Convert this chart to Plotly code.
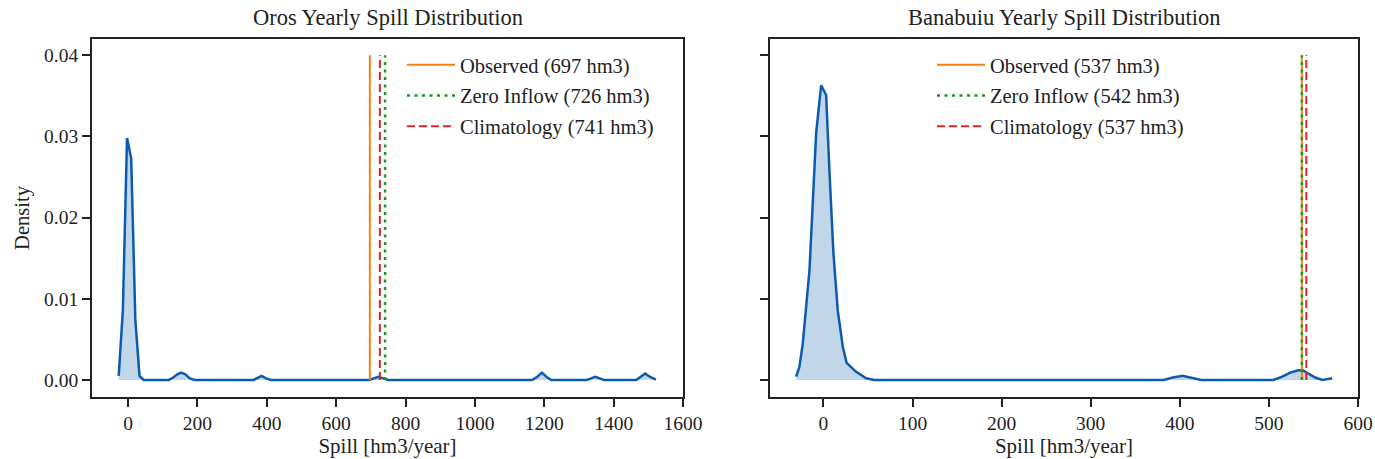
import plotly.graph_objects as go

# ---------------- data ----------------
oros_x = [-27, -15, -3, 9, 21, 33, 45, 118, 130, 142, 153, 165, 178, 192,
          362, 372, 385, 398, 412, 695, 708, 722, 736, 750,
          1165, 1180, 1193, 1206, 1220, 1322, 1335, 1347, 1360, 1372,
          1465, 1478, 1491, 1504, 1517, 1522]
oros_y = [0.0005, 0.0086, 0.0298, 0.0273, 0.0074, 0.0005, 0.0, 0.0, 0.0003, 0.0007, 0.0009, 0.0007, 0.0002, 0.0,
          0.0, 0.0002, 0.0005, 0.0002, 0.0, 0.0, 0.0002, 0.0004, 0.0002, 0.0,
          0.0, 0.0004, 0.0009, 0.0004, 0.0, 0.0, 0.0002, 0.0004, 0.0002, 0.0,
          0.0, 0.0004, 0.0008, 0.0004, 0.0001, 0.00005]

bana_x = [-30.7, -27, -23.2, -19.5, -15.7, -12, -8.2, -2.6, 3, 6.7, 11.2, 16, 21.7, 26, 36.7, 48, 57,
          382, 392, 403, 413, 424, 505, 515, 524, 533, 538, 545, 552, 560, 566, 571]
bana_y = [0.0004, 0.0016, 0.0045, 0.0086, 0.0135, 0.0218, 0.0304, 0.0363, 0.0351, 0.0258, 0.0156, 0.0086,
          0.0041, 0.0021, 0.0010, 0.0002, 0.0,
          0.0, 0.0003, 0.0005, 0.0003, 0.0, 0.0, 0.0004, 0.0009, 0.0012, 0.0012, 0.0008, 0.0003, 0.0, 0.0001, 0.0002]

series_names = ["Observed", "Zero Inflow", "Climatology"]
oros_label_values = [697, 726, 741]
oros_line_pos = [697, 741, 726]
bana_label_values = [537, 542, 537]
bana_line_pos = [537, 537, 542]
vline_top = 0.04

titles = ["Oros Yearly Spill Distribution", "Banabuiu Yearly Spill Distribution"]
oros_ticks = [0, 200, 400, 600, 800, 1000, 1200, 1400, 1600]
bana_ticks = [0, 100, 200, 300, 400, 500, 600]
y_ticks = [0.0, 0.01, 0.02, 0.03, 0.04]

# ---------------- style ----------------
FONT = "Liberation Serif"
INK = "#222222"
KDE_COLOR = "#0b5cad"
KDE_FILL = "rgba(11,92,173,0.25)"
line_styles = [
    dict(color="#ff7f0e", width=2, dash="solid"),
    dict(color="#1a9a1a", width=2.5, dash="3px,4.5px"),
    dict(color="#d62728", width=2, dash="8px,4px"),
]

fig = go.Figure()

panels = [
    dict(x=oros_x, y=oros_y, pos=oros_line_pos, lab=oros_label_values, xa="x", ya="y", legend="legend"),
    dict(x=bana_x, y=bana_y, pos=bana_line_pos, lab=bana_label_values, xa="x2", ya="y2", legend="legend2"),
]

for p in panels:
    fig.add_trace(go.Scatter(x=p["x"], y=p["y"], mode="lines", fill="tozeroy",
                             fillcolor=KDE_FILL, line=dict(color=KDE_COLOR, width=2.5),
                             showlegend=False, xaxis=p["xa"], yaxis=p["ya"], hoverinfo="skip"))
    for i, name in enumerate(series_names):
        fig.add_trace(go.Scatter(x=[p["pos"][i], p["pos"][i]], y=[0, vline_top], mode="lines",
                                 line=line_styles[i], name=f"{name} ({p['lab'][i]} hm3)",
                                 legend=p["legend"], legendgroup=f"{p['legend']}_{i}",
                                 xaxis=p["xa"], yaxis=p["ya"]))

W, H = 1375, 459
PLOT_H = 459 - 39 - 62
axis_common = dict(showline=True, mirror=True, linecolor=INK, linewidth=1.8,
                   ticks="outside", ticklen=8, tickwidth=1.8, tickcolor=INK,
                   showgrid=False, zeroline=False, automargin=False,
                   tickfont=dict(family=FONT, size=19.5, color=INK))

legend_common = dict(font=dict(family=FONT, size=20.5, color=INK), bgcolor="rgba(0,0,0,0)",
                     borderwidth=0, xanchor="left", yanchor="top", tracegroupgap=1,
                     itemwidth=48)

fig.update_layout(
    width=W, height=H,
    margin=dict(l=0, r=0, t=39, b=62),
    paper_bgcolor="white", plot_bgcolor="white",
    font=dict(family=FONT, color=INK),
    xaxis=dict(domain=[92 / W, 683 / W], range=[-104, 1600], tickvals=oros_ticks,
               title=dict(text="Spill [hm3/year]", font=dict(family=FONT, size=21, color=INK), standoff=4),
               **axis_common),
    yaxis=dict(range=[-0.0021, 0.042], tickvals=y_ticks, tickformat=".2f",
               title=dict(text="Density", font=dict(family=FONT, size=20.5, color=INK), standoff=9),
               **axis_common),
    xaxis2=dict(domain=[770 / W, 1358 / W], range=[-60, 600], tickvals=bana_ticks, anchor="y2",
                title=dict(text="Spill [hm3/year]", font=dict(family=FONT, size=21, color=INK), standoff=4),
                **axis_common),
    yaxis2=dict(range=[-0.0021, 0.042], tickvals=y_ticks, showticklabels=False, anchor="x2",
                **axis_common),
    legend=dict(x=402 / W, y=1 - 6 / PLOT_H, **legend_common),
    legend2=dict(x=932 / W, y=1 - 6 / PLOT_H, **legend_common),
    annotations=[
        dict(text=titles[0], x=(92 + 683) / 2 / W, y=1, xref="paper", yref="paper",
             xanchor="center", yanchor="bottom", yshift=7, showarrow=False,
             font=dict(family=FONT, size=22.5, color=INK)),
        dict(text=titles[1], x=(770 + 1358) / 2 / W, y=1, xref="paper", yref="paper",
             xanchor="center", yanchor="bottom", yshift=7, showarrow=False,
             font=dict(family=FONT, size=22.5, color=INK)),
    ],
)

fig.write_html("out.html", config={"displayModeBar": False},
               post_script="document.body.style.margin='0px';document.body.style.overflow='hidden';")
